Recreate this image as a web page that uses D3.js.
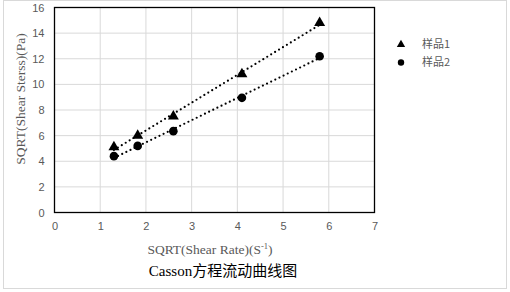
<!DOCTYPE html>
<html><head><meta charset="utf-8">
<script src="https://cdn.jsdelivr.net/npm/d3@7"></script>
<style>body{margin:0;background:#fff}svg{display:block}</style>
</head><body>
<script>
const xValues = [1.3, 1.82, 2.6, 4.1, 5.8];
const series1 = [5.1, 6.0, 7.5, 10.8, 14.8];
const series2 = [4.4, 5.2, 6.35, 8.95, 12.2];
const seriesNames = ["样品1", "样品2"];
const xTicks = [0,1,2,3,4,5,6,7];
const yTicks = [0,2,4,6,8,10,12,14,16];

const W = 510, H = 292;
const svg = d3.select("body").append("svg").attr("width", W).attr("height", H);
svg.append("rect").attr("x",3.5).attr("y",0.5).attr("width",503).attr("height",288)
  .attr("fill","#fff").attr("stroke","#d9d9d9").attr("stroke-width",1);

const L = 54.5, R = 374.5, T = 7.5, B = 212.5;
const x = d3.scaleLinear().domain([0,7]).range([L,R]);
const y = d3.scaleLinear().domain([0,16]).range([B,T]);

const g = svg.append("g");
g.selectAll(".vg").data(xTicks).join("line")
  .attr("x1",d=>x(d)).attr("x2",d=>x(d)).attr("y1",T).attr("y2",B)
  .attr("stroke","#d9d9d9").attr("stroke-width",1);
g.selectAll(".hg").data(yTicks).join("line")
  .attr("x1",L).attr("x2",R).attr("y1",d=>y(d)).attr("y2",d=>y(d))
  .attr("stroke","#d9d9d9").attr("stroke-width",1);
g.append("rect").attr("x",L).attr("y",T).attr("width",R-L).attr("height",B-T)
  .attr("fill","none").attr("stroke","#000").attr("stroke-width",1.3);

const xAxis = d3.axisBottom(x).tickValues(xTicks).tickFormat(d3.format("d")).tickSize(0).tickPadding(10);
const yAxis = d3.axisLeft(y).tickValues(yTicks).tickFormat(d3.format("d")).tickSize(0).tickPadding(10);
const xa = svg.append("g").attr("transform",`translate(0,${B})`).call(xAxis);
const ya = svg.append("g").attr("transform",`translate(${L},0)`).call(yAxis);
[xa,ya].forEach(a=>{
  a.select(".domain").remove();
  a.selectAll("text").attr("fill","#595959").style("font-family","Liberation Sans, Arial, sans-serif").style("font-size","11px");
});

function fit(xs, ys){
  const n=xs.length, mx=d3.mean(xs), my=d3.mean(ys);
  let sxy=0,sxx=0; for(let i=0;i<n;i++){sxy+=(xs[i]-mx)*(ys[i]-my);sxx+=(xs[i]-mx)**2;}
  const b=sxy/sxx, a=my-b*mx; return [a,b];
}
[series1, series2].forEach(s=>{
  const [a,b]=fit(xValues,s);
  const x0=d3.min(xValues), x1=d3.max(xValues);
  svg.append("line").attr("x1",x(x0)).attr("y1",y(a+b*x0)).attr("x2",x(x1)).attr("y2",y(a+b*x1))
    .attr("stroke","#000").attr("stroke-width",2.2).attr("stroke-linecap","round")
    .attr("stroke-dasharray","0,4.6");
});

const tri = d3.symbol().type(d3.symbolTriangle).size(52);
svg.selectAll(".t").data(xValues).join("path")
  .attr("d",tri).attr("transform",(d,i)=>`translate(${x(d)},${y(series1[i])})`).attr("fill","#000");
svg.selectAll(".c").data(xValues).join("circle")
  .attr("cx",d=>x(d)).attr("cy",(d,i)=>y(series2[i])).attr("r",4.3).attr("fill","#000");

svg.append("path").attr("d",d3.symbol().type(d3.symbolTriangle).size(30)).attr("transform","translate(401,44.5)");
svg.append("circle").attr("cx",401).attr("cy",62.5).attr("r",3.2);
svg.selectAll(".lt").data(seriesNames).join("text")
  .attr("x",422).attr("y",(d,i)=>48+i*18.3).text(d=>d)
  .attr("fill","#595959").style("font-family","Noto Sans CJK SC, sans-serif").style("font-size","11px");

svg.append("text").attr("x",210).attr("y",254).attr("text-anchor","middle")
  .attr("fill","#595959").style("font-family","Liberation Serif, serif").style("font-size","13.5px")
  .html('SQRT(Shear Rate)(S<tspan dy="-5" font-size="8.5px">-1</tspan><tspan dy="5">)</tspan>');
svg.append("text").attr("transform","translate(24.5,99) rotate(-90)").attr("text-anchor","middle")
  .attr("fill","#595959").style("font-family","Liberation Serif, serif").style("font-size","13.5px")
  .text("SQRT(Shear Sterss)(Pa)");
svg.append("text").attr("x",223).attr("y",276).attr("text-anchor","middle")
  .attr("fill","#000").style("font-family","Liberation Serif, Noto Sans CJK SC, serif").style("font-size","15px")
  .text("Casson方程流动曲线图");
</script>
</body></html>
